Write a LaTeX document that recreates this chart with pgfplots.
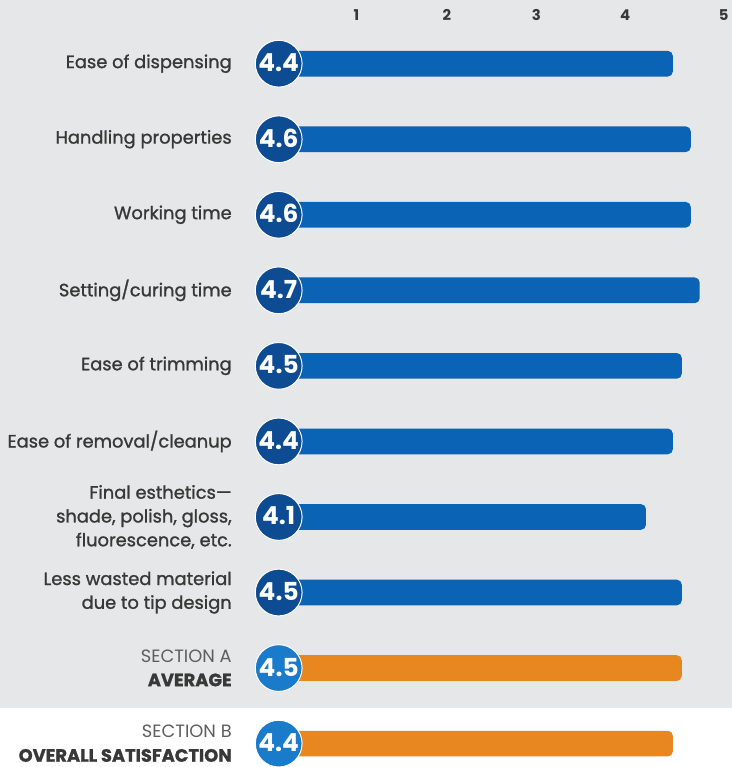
\documentclass[border=0pt]{standalone}
\usepackage{pgfplots}
\pgfplotsset{compat=1.18}
\usepackage{fontspec}
\setmainfont{Poppins}
\newfontfamily\lab{Poppins}[FakeBold=1.2]
\definecolor{bggray}{HTML}{E6E7E8}
\definecolor{barblue}{HTML}{0B63B6}
\definecolor{circblue}{HTML}{0D4B92}
\definecolor{secblue}{HTML}{1B7BCB}
\definecolor{barorange}{HTML}{E8861F}
\definecolor{txt}{HTML}{383838}
\definecolor{secgray}{HTML}{5E5E5E}
\begin{document}
\begin{tikzpicture}
\fill[bggray] (0,56bp) rectangle (735bp,767bp);
\fill[white] (0,0) rectangle (735bp,56bp);
\begin{axis}[
  at={(245bp,0)}, anchor=south west,
  width=490bp, height=737bp, scale only axis,
  xmin=-0.3889, xmax=5.0556, ymin=-9.262, ymax=0.448,
  clip=false,
  axis line style={draw=none},
  major tick length=0pt,
  xticklabel pos=upper,
  xtick={0.867,1.878,2.878,3.867,4.967},
  xticklabels={1,2,3,4,5},
  xticklabel style={anchor=south, inner sep=0pt, yshift=9bp, font=\fontsize{15}{16}\selectfont\bfseries, text=txt},
  ytick={0,-1,-2,-3,-4,-5,-6,-7,-8,-9},
  yticklabels={{Ease of dispensing},{Handling properties},{Working time},{Setting/curing time},{Ease of trimming},{Ease of removal/cleanup},{Final esthetics—\\shade, polish, gloss,\\fluorescence, etc.},{Less wasted material\\due to tip design},{\normalfont\color{secgray}SECTION A\\\bfseries AVERAGE},{\normalfont\color{secgray}SECTION B\\\bfseries OVERALL SATISFACTION}},
  yticklabel style={anchor=east, align=right, inner sep=0pt, xshift=-12bp, font=\fontsize{18}{24}\selectfont\lab, text=txt},
]
% bars
\addplot[fill=barblue, draw=none, rounded corners=5bp] coordinates {(0,-0.17) (4.4,-0.17) (4.4,0.17) (0,0.17)} --cycle;
\addplot[fill=barblue, draw=none, rounded corners=5bp] coordinates {(0,-1.17) (4.6,-1.17) (4.6,-0.83) (0,-0.83)} --cycle;
\addplot[fill=barblue, draw=none, rounded corners=5bp] coordinates {(0,-2.17) (4.6,-2.17) (4.6,-1.83) (0,-1.83)} --cycle;
\addplot[fill=barblue, draw=none, rounded corners=5bp] coordinates {(0,-3.17) (4.7,-3.17) (4.7,-2.83) (0,-2.83)} --cycle;
\addplot[fill=barblue, draw=none, rounded corners=5bp] coordinates {(0,-4.17) (4.5,-4.17) (4.5,-3.83) (0,-3.83)} --cycle;
\addplot[fill=barblue, draw=none, rounded corners=5bp] coordinates {(0,-5.17) (4.4,-5.17) (4.4,-4.83) (0,-4.83)} --cycle;
\addplot[fill=barblue, draw=none, rounded corners=5bp] coordinates {(0,-6.17) (4.1,-6.17) (4.1,-5.83) (0,-5.83)} --cycle;
\addplot[fill=barblue, draw=none, rounded corners=5bp] coordinates {(0,-7.17) (4.5,-7.17) (4.5,-6.83) (0,-6.83)} --cycle;
\addplot[fill=barorange, draw=none, rounded corners=5bp] coordinates {(0,-8.17) (4.5,-8.17) (4.5,-7.83) (0,-7.83)} --cycle;
\addplot[fill=barorange, draw=none, rounded corners=5bp] coordinates {(0,-9.17) (4.4,-9.17) (4.4,-8.83) (0,-8.83)} --cycle;
% circles with values
\addplot[only marks, mark=*, mark size=23.5bp, mark options={fill=circblue, draw=white, line width=1bp},
  nodes near coords, point meta=explicit symbolic,
  every node near coord/.style={anchor=center, text=white, yshift=1bp, font=\fontsize{25}{26}\selectfont\bfseries}]
  table[meta=lab] {
x y lab
0 0 4.4
0 -1 4.6
0 -2 4.6
0 -3 4.7
0 -4 4.5
0 -5 4.4
0 -6 4.1
0 -7 4.5
};
\addplot[only marks, mark=*, mark size=23.5bp, mark options={fill=secblue, draw=white, line width=1bp},
  nodes near coords, point meta=explicit symbolic,
  every node near coord/.style={anchor=center, text=white, yshift=1bp, font=\fontsize{25}{26}\selectfont\bfseries}]
  table[meta=lab] {
x y lab
0 -8 4.5
0 -9 4.4
};
\end{axis}
\end{tikzpicture}
\end{document}
